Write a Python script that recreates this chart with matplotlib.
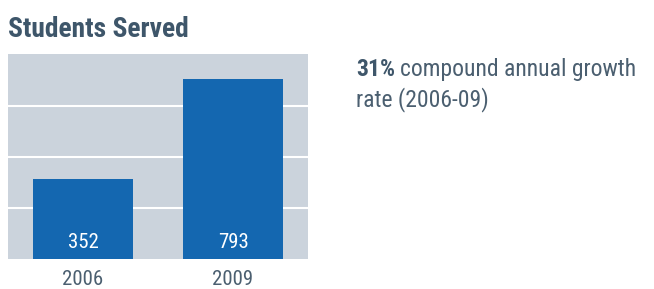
import matplotlib.pyplot as plt
from matplotlib import font_manager

years = ['2006', '2009']
students = [352, 793]
growth_pct = '31%'
growth_line1 = 'compound annual growth'
growth_line2 = 'rate (2006-09)'

names = {f.name for f in font_manager.fontManager.ttflist}
font = 'DejaVu Sans'
for cand in ['Roboto Condensed', 'Liberation Sans Narrow', 'Roboto', 'Liberation Sans']:
    if cand in names:
        font = cand
        break
plt.rcParams['font.family'] = font

bg = '#cbd3dc'
bar_color = '#1467b0'
title_color = '#3e566a'
text_color = '#4b5f70'

fig = plt.figure(figsize=(6.54, 2.89), dpi=100)
ax = fig.add_axes([8 / 654, 30 / 289, 300 / 654, 205 / 289])
ax.set_facecolor(bg)

x = range(len(years))
ax.bar(x, students, width=2 / 3, color=bar_color, zorder=3)
ax.set_xlim(-0.5, 1.5)
ax.set_ylim(0, 903)
ax.set_yticks([225, 450, 675])
ax.yaxis.grid(True, color='white', linewidth=1.5, zorder=1)
ax.set_yticklabels([])
ax.tick_params(axis='y', length=0)
ax.set_xticks(list(x))
ax.set_xticklabels(years, fontsize=15, color=text_color)
ax.tick_params(axis='x', length=0, pad=8)
for s in ax.spines.values():
    s.set_visible(False)

for i, v in enumerate(students):
    ax.text(i, 48, str(v), ha='center', va='baseline', color='white', fontsize=15,
            zorder=4)

fig.text(8 / 654, 1 - 37 / 289, 'Students Served', fontsize=19.8, fontweight='bold',
         color=title_color, ha='left', va='baseline')

t = fig.text(356 / 654, 1 - 76 / 289, growth_pct, fontsize=17, fontweight='bold',
             color=title_color, ha='left', va='baseline')
fig.canvas.draw()
bb = t.get_window_extent()
fig.text((bb.x1 + 5) / 654, 1 - 76 / 289, growth_line1, fontsize=17,
         color=text_color, ha='left', va='baseline')
fig.text(356 / 654, 1 - 106 / 289, growth_line2, fontsize=17,
         color=text_color, ha='left', va='baseline')

fig.savefig('out.png', dpi=100)
